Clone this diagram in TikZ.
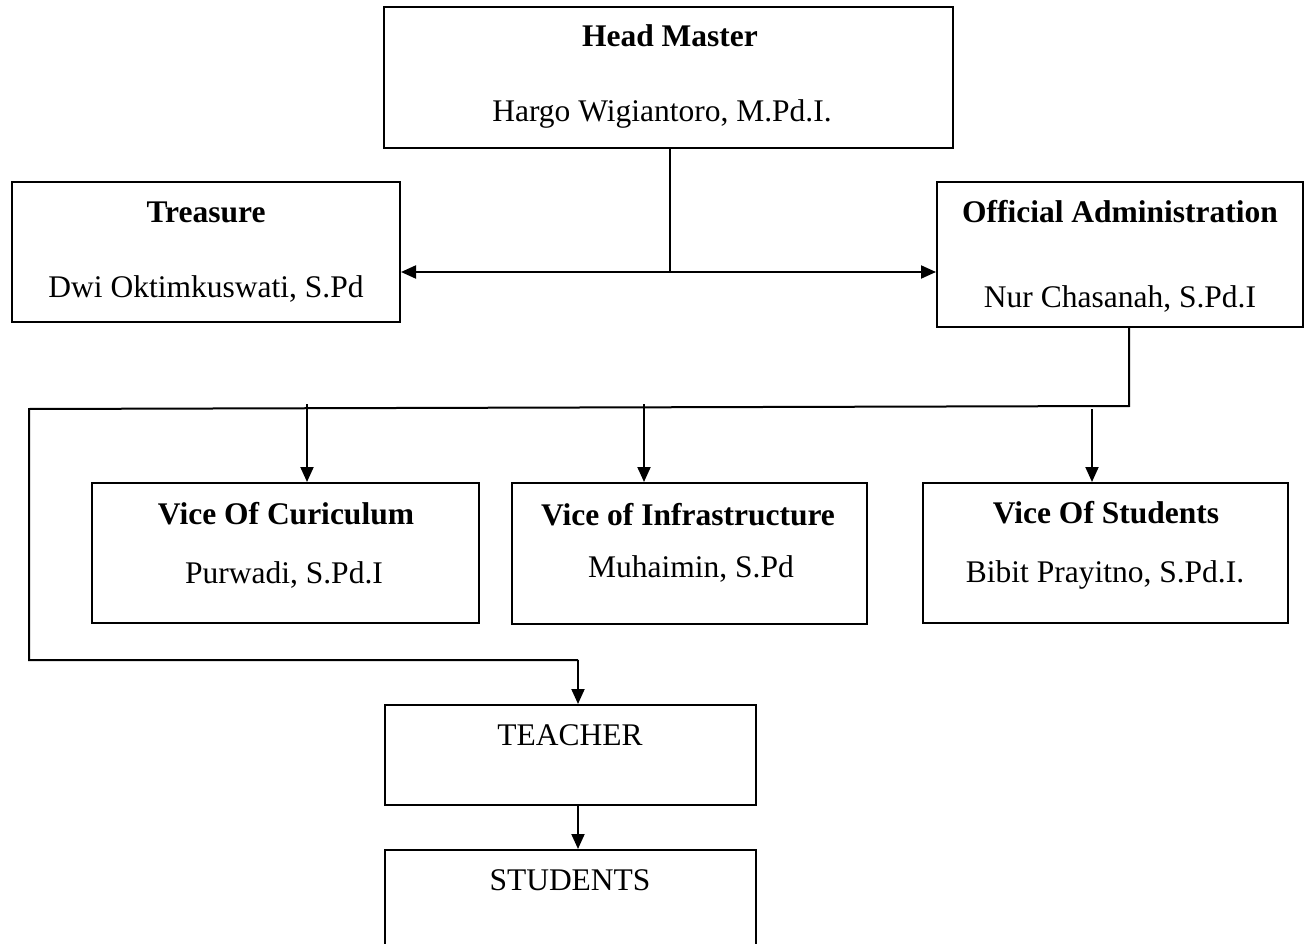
\documentclass[tikz,border=0pt]{standalone}
\usepackage{fontspec}
\setmainfont{Liberation Serif}
\usetikzlibrary{arrows.meta}
\begin{document}
\begin{tikzpicture}[x=1pt,y=-1pt,
  box/.style={draw,line width=2pt,inner sep=0pt,rectangle},
  lbl/.style={anchor=base,inner sep=0pt,font=\fontsize{31.5}{36}\selectfont},
  ttl/.style={lbl,font=\fontsize{31.5}{36}\selectfont\bfseries},
  conn/.style={line width=2pt},
  arr/.style={line width=2pt,-{Triangle[length=15pt,width=13pt]}}]
\useasboundingbox (0,0) rectangle (1304,944);
\clip (0,0) rectangle (1304,944);
\fill[white] (0,0) rectangle (1304,944);
% boxes
\node[box,minimum width=569pt,minimum height=141pt] (head) at (668.5,77.5) {};
\node[box,minimum width=388pt,minimum height=140pt] (treas) at (206,252) {};
\node[box,minimum width=366pt,minimum height=145pt] (offic) at (1120,254.5) {};
\node[box,minimum width=387pt,minimum height=140pt] (curic) at (285.5,553) {};
\node[box,minimum width=355pt,minimum height=141pt] (infra) at (689.5,553.5) {};
\node[box,minimum width=365pt,minimum height=140pt] (vstud) at (1105.5,553) {};
\node[box,minimum width=371pt,minimum height=100pt] (teach) at (570.5,755) {};
\node[box,minimum width=371pt,minimum height=150pt] (stud) at (570.5,925) {};
% texts
\node[ttl] (t1) at (670,47) {Head Master};
\node[lbl] (n1) at (662,122) {Hargo Wigiantoro, M.Pd.I.};
\node[ttl] (t2) at (206,223) {Treasure};
\node[lbl] (n2) at (206,298) {Dwi Oktimkuswati, S.Pd};
\node[ttl] (t3) at (1120,223) {Official Administration};
\node[lbl] (n3) at (1120,307) {Nur Chasanah, S.Pd.I};
\node[ttl] (t4) at (286,524) {Vice Of Curiculum};
\node[lbl] (n4) at (284,583) {Purwadi, S.Pd.I};
\node[ttl] (t5) at (688,525) {Vice of Infrastructure};
\node[lbl] (n5) at (691,577) {Muhaimin, S.Pd};
\node[ttl] (t6) at (1106,523) {Vice Of Students};
\node[lbl] (n6) at (1105,582) {Bibit Prayitno, S.Pd.I.};
\node[lbl] (t7) at (570,745) {TEACHER};
\node[lbl] (t8) at (570,890) {STUDENTS};
% connectors
\coordinate (hj) at (670,272);
\draw[conn] (head.south -| hj) -- (hj);
\draw[arr] (hj) -- (treas.east |- hj);
\draw[arr] (hj) -- (offic.west |- hj);
\coordinate (oa) at (1129,406);
\coordinate (lt) at (29,409);
\coordinate (lb) at (29,660);
\coordinate (tb) at (578,660);
\draw[conn] (offic.south -| oa) -- (oa) -- (lt) -- (lb) -- (tb);
\draw[arr] (tb) -- (teach.north -| tb);
\coordinate (a1) at (307,404);
\coordinate (a2) at (644,404);
\coordinate (a3) at (1092,409);
\draw[arr] (a1) -- (curic.north -| a1);
\draw[arr] (a2) -- (infra.north -| a2);
\draw[arr] (a3) -- (vstud.north -| a3);
\draw[arr] (teach.south -| tb) -- (stud.north -| tb);
\end{tikzpicture}
\end{document}
